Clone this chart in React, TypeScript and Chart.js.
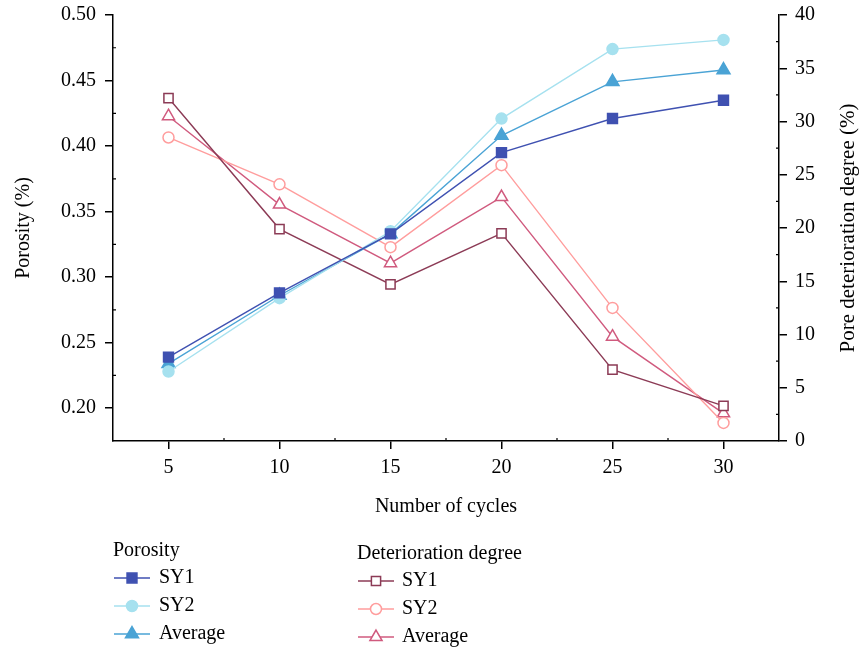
import React, { useEffect, useRef } from 'react';
import { Chart, registerables } from 'chart.js';

Chart.register(...registerables);

const cycles = [5, 10, 15, 20, 25, 30];

const porositySY1 = [0.239, 0.288, 0.333, 0.395, 0.421, 0.435];
const porositySY2 = [0.228, 0.284, 0.335, 0.421, 0.474, 0.481];
const porosityAvg = [0.234, 0.286, 0.333, 0.408, 0.449, 0.458];

const deteriorationSY1 = [32.2, 19.9, 14.7, 19.5, 6.7, 3.3];
const deteriorationSY2 = [28.5, 24.1, 18.2, 25.9, 12.5, 1.7];
const deteriorationAvg = [30.5, 22.2, 16.7, 22.9, 9.8, 2.6];

const xTicks = [5, 10, 15, 20, 25, 30];
const xMinorTicks = [7.5, 12.5, 17.5, 22.5, 27.5];
const leftTicks = [0.2, 0.25, 0.3, 0.35, 0.4, 0.45, 0.5];
const leftMinorTicks = [0.225, 0.275, 0.325, 0.375, 0.425, 0.475];
const rightTicks = [0, 5, 10, 15, 20, 25, 30, 35, 40];
const rightMinorTicks = [2.5, 7.5, 12.5, 17.5, 22.5, 27.5, 32.5, 37.5];

const xTitle = 'Number of cycles';
const leftTitle = 'Porosity (%)';
const rightTitle = 'Pore deterioration degree (%)';
const legendPorosityTitle = 'Porosity';
const legendDeteriorationTitle = 'Deterioration degree';
const seriesNames = ['SY1', 'SY2', 'Average'];

const FONT = '"Liberation Serif", "Times New Roman", serif';

const C_P1 = '#3f51b1';
const C_P2 = '#a6e1ef';
const C_PA = '#4aa3d5';
const C_D1 = '#8c3b56';
const C_D2 = '#ff9d9d';
const C_DA = '#d05a7e';

type Marker = 'rect' | 'circle' | 'triangle';

function drawMarker(ctx: CanvasRenderingContext2D, style: Marker, x: number, y: number, r: number, color: string, filled: boolean) {
  ctx.save();
  ctx.beginPath();
  if (style === 'rect') {
    const s = Math.SQRT1_2 * r;
    ctx.rect(x - s, y - s, 2 * s, 2 * s);
  } else if (style === 'circle') {
    ctx.arc(x, y, r, 0, Math.PI * 2);
  } else {
    for (let i = 0; i < 3; i++) {
      const a = (i * 2 * Math.PI) / 3;
      const px = x + Math.sin(a) * r;
      const py = y - Math.cos(a) * r;
      if (i === 0) ctx.moveTo(px, py);
      else ctx.lineTo(px, py);
    }
    ctx.closePath();
  }
  ctx.fillStyle = filled ? color : '#ffffff';
  ctx.fill();
  ctx.lineWidth = 1.5;
  ctx.strokeStyle = color;
  ctx.stroke();
  ctx.restore();
}

const porosityLegend = [
  { color: C_P1, style: 'rect' as Marker, r: 7 },
  { color: C_P2, style: 'circle' as Marker, r: 5.5 },
  { color: C_PA, style: 'triangle' as Marker, r: 7.5 },
];
const deteriorationLegend = [
  { color: C_D1, style: 'rect' as Marker, r: 6.5 },
  { color: C_D2, style: 'circle' as Marker, r: 5.5 },
  { color: C_DA, style: 'triangle' as Marker, r: 7 },
];

const decorPlugin = {
  id: 'decor',
  afterDraw(chart: any) {
    const ctx: CanvasRenderingContext2D = chart.ctx;
    const area = chart.chartArea;
    const xs = chart.scales.x;
    const yl = chart.scales.y;
    const yr = chart.scales.y1;
    ctx.save();
    // minor ticks (inward)
    ctx.strokeStyle = '#000';
    ctx.lineWidth = 1.2;
    ctx.beginPath();
    xMinorTicks.forEach((v) => {
      const px = xs.getPixelForValue(v);
      ctx.moveTo(px, area.bottom);
      ctx.lineTo(px, area.bottom - 3);
    });
    leftMinorTicks.forEach((v) => {
      const py = yl.getPixelForValue(v);
      ctx.moveTo(area.left, py);
      ctx.lineTo(area.left + 3, py);
    });
    rightMinorTicks.forEach((v) => {
      const py = yr.getPixelForValue(v);
      ctx.moveTo(area.right, py);
      ctx.lineTo(area.right - 3, py);
    });
    ctx.stroke();

    // axis titles
    ctx.fillStyle = '#000';
    ctx.font = `20px ${FONT}`;
    ctx.textAlign = 'center';
    ctx.textBaseline = 'middle';
    ctx.fillText(xTitle, (area.left + area.right) / 2, 507);

    const midY = (area.top + area.bottom) / 2;
    ctx.save();
    ctx.translate(24, midY);
    ctx.rotate(-Math.PI / 2);
    ctx.fillText(leftTitle, 0, 0);
    ctx.restore();

    ctx.save();
    ctx.font = `21px ${FONT}`;
    ctx.translate(848, midY);
    ctx.rotate(-Math.PI / 2);
    ctx.fillText(rightTitle, 0, 0);
    ctx.restore();

    // legend
    ctx.textAlign = 'left';
    ctx.fillText(legendPorosityTitle, 113, 551);
    ctx.fillText(legendDeteriorationTitle, 357, 554);

    const rowsP = [578, 606, 634];
    const rowsD = [581, 609, 637];
    porosityLegend.forEach((item, i) => {
      const y = rowsP[i];
      ctx.beginPath();
      ctx.strokeStyle = item.color;
      ctx.lineWidth = 1.5;
      ctx.moveTo(114, y);
      ctx.lineTo(150, y);
      ctx.stroke();
      drawMarker(ctx, item.style, 132, y, item.r, item.color, true);
      ctx.fillStyle = '#000';
      ctx.fillText(seriesNames[i], 159, y);
    });
    deteriorationLegend.forEach((item, i) => {
      const y = rowsD[i];
      ctx.beginPath();
      ctx.strokeStyle = item.color;
      ctx.lineWidth = 1.5;
      ctx.moveTo(358, y);
      ctx.lineTo(394, y);
      ctx.stroke();
      drawMarker(ctx, item.style, 376, y, item.r, item.color, false);
      ctx.fillStyle = '#000';
      ctx.fillText(seriesNames[i], 402, y);
    });
    ctx.restore();
  },
};

function toPoints(values: number[]) {
  return cycles.map((c, i) => ({ x: c, y: values[i] }));
}

function makeSet(label: string, values: number[], axis: string, color: string, style: Marker, r: number, filled: boolean) {
  return {
    label,
    data: toPoints(values),
    yAxisID: axis,
    borderColor: color,
    backgroundColor: color,
    borderWidth: 1.4,
    pointStyle: style,
    pointRadius: r,
    pointHoverRadius: r,
    pointBorderColor: color,
    pointBackgroundColor: filled ? color : '#ffffff',
    pointBorderWidth: 1.5,
    tension: 0,
    fill: false,
  };
}

export default function App() {
  const ref = useRef<HTMLCanvasElement>(null);

  useEffect(() => {
    if (!ref.current) return;
    const tickFont = { family: FONT, size: 20 };
    const gridCommon = {
      drawOnChartArea: false,
      drawTicks: true,
      tickLength: 8,
      color: '#000',
      tickColor: '#000',
      tickWidth: 1.5,
      lineWidth: 1.5,
    };
    const chart = new Chart(ref.current, {
      type: 'line',
      data: {
        datasets: [
          makeSet('Porosity SY1', porositySY1, 'y', C_P1, 'rect', 7, true),
          makeSet('Porosity SY2', porositySY2, 'y', C_P2, 'circle', 5.5, true),
          makeSet('Porosity Average', porosityAvg, 'y', C_PA, 'triangle', 7.5, true),
          makeSet('Deterioration SY1', deteriorationSY1, 'y1', C_D1, 'rect', 6.5, false),
          makeSet('Deterioration SY2', deteriorationSY2, 'y1', C_D2, 'circle', 5.5, false),
          makeSet('Deterioration Average', deteriorationAvg, 'y1', C_DA, 'triangle', 7, false),
        ] as any,
      },
      options: {
        animation: false,
        responsive: true,
        maintainAspectRatio: false,
        layout: { padding: { top: 15, left: 0, right: 0, bottom: 0 } },
        plugins: {
          legend: { display: false },
          tooltip: { enabled: false },
        },
        scales: {
          x: {
            type: 'linear',
            position: 'bottom',
            min: 2.5,
            max: 32.5,
            afterBuildTicks: (s: any) => {
              s.ticks = xTicks.map((v) => ({ value: v }));
            },
            afterFit: (s: any) => {
              s.height = 209;
              s.paddingLeft = 0;
              s.paddingRight = 0;
            },
            ticks: {
              font: tickFont,
              color: '#000',
              padding: 7,
              maxRotation: 0,
              autoSkip: false,
              callback: (v: any) => String(v),
            },
            grid: gridCommon,
            border: { display: true, color: '#000', width: 1.5 },
          },
          y: {
            type: 'linear',
            position: 'left',
            min: 0.175,
            max: 0.5,
            afterBuildTicks: (s: any) => {
              s.ticks = leftTicks.map((v) => ({ value: v }));
            },
            afterFit: (s: any) => {
              s.width = 113;
              s.paddingTop = 0;
              s.paddingBottom = 0;
            },
            ticks: {
              font: tickFont,
              color: '#000',
              padding: 9,
              autoSkip: false,
              callback: (v: any) => Number(v).toFixed(2),
            },
            grid: gridCommon,
            border: { display: true, color: '#000', width: 1.5 },
          },
          y1: {
            type: 'linear',
            position: 'right',
            min: 0,
            max: 40,
            afterBuildTicks: (s: any) => {
              s.ticks = rightTicks.map((v) => ({ value: v }));
            },
            afterFit: (s: any) => {
              s.width = 81;
              s.paddingTop = 0;
              s.paddingBottom = 0;
            },
            ticks: {
              font: tickFont,
              color: '#000',
              padding: 8,
              autoSkip: false,
              callback: (v: any) => String(v),
            },
            grid: gridCommon,
            border: { display: true, color: '#000', width: 1.5 },
          },
        },
      } as any,
      plugins: [decorPlugin],
    });
    return () => chart.destroy();
  }, []);

  return (
    <div style={{ position: 'fixed', left: 0, top: 0, width: 860, height: 650, background: '#ffffff' }}>
      <canvas ref={ref} />
    </div>
  );
}
